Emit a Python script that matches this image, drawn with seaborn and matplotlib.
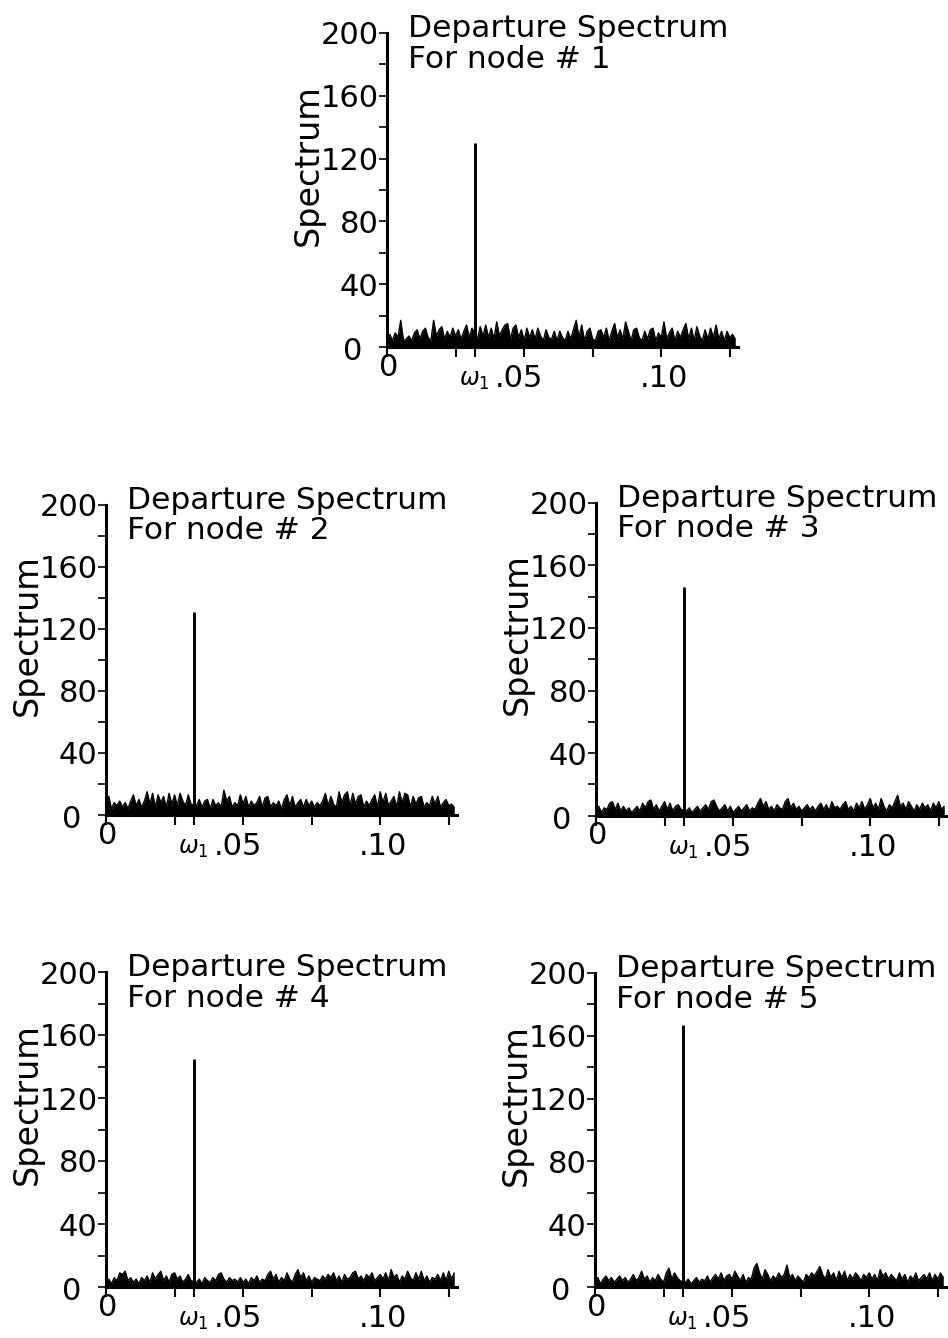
import numpy as np
import pandas as pd
import matplotlib
matplotlib.use("Agg")
import matplotlib.pyplot as plt
import matplotlib.transforms as mtransforms
import seaborn as sns

# ---------------- data ----------------
freq_step = 0.001
n_freq = 128
freqs = np.arange(n_freq) * freq_step          # frequency grid (cycles / unit time)
omega1_index = 32                               # omega_1 = 0.032

node_ids = [1, 2, 3, 4, 5]

spec_node1 = [5, 8, 4, 9, 6, 17, 4, 5, 7, 4,
              9, 11, 5, 10, 12, 6, 4, 17, 7, 11,
              13, 5, 10, 6, 12, 7, 11, 5, 10, 14,
              6, 12, 130, 5, 13, 7, 14, 6, 12, 5,
              16, 7, 11, 14, 15, 5, 12, 14, 6, 11,
              4, 12, 6, 11, 5, 12, 7, 4, 11, 6,
              5, 10, 4, 10, 6, 4, 10, 5, 11, 17,
              6, 14, 4, 10, 12, 5, 4, 10, 11, 6,
              12, 4, 10, 15, 6, 11, 5, 16, 10, 4,
              11, 12, 6, 4, 10, 5, 11, 12, 4, 9,
              6, 16, 5, 9, 12, 4, 10, 6, 11, 15,
              5, 12, 4, 13, 7, 4, 11, 5, 12, 6,
              14, 5, 10, 4, 10, 6, 8, 5]

spec_node2 = [5, 12, 4, 8, 6, 9, 5, 8, 4, 9,
              13, 6, 10, 5, 9, 15, 7, 14, 5, 13,
              8, 12, 5, 14, 7, 13, 6, 14, 9, 6,
              13, 7, 131, 6, 10, 5, 9, 10, 4, 10,
              6, 8, 5, 16, 9, 12, 5, 8, 6, 13,
              7, 12, 5, 9, 6, 8, 12, 5, 11, 12,
              5, 8, 6, 9, 4, 10, 13, 6, 12, 5,
              8, 10, 5, 10, 6, 9, 5, 8, 6, 9,
              14, 6, 12, 7, 5, 15, 8, 13, 15, 6,
              14, 7, 12, 13, 5, 9, 6, 10, 13, 5,
              15, 8, 14, 6, 9, 12, 5, 15, 8, 14,
              13, 5, 12, 7, 11, 12, 5, 8, 6, 12,
              7, 12, 5, 8, 10, 6, 7, 5]

spec_node3 = [3, 6, 2, 5, 4, 8, 9, 4, 8, 3,
              6, 3, 5, 2, 4, 6, 3, 8, 5, 9,
              10, 4, 7, 3, 6, 9, 4, 8, 3, 6,
              7, 4, 146, 3, 5, 2, 4, 6, 3, 5,
              7, 4, 9, 10, 6, 3, 5, 7, 3, 6,
              2, 4, 6, 3, 5, 7, 3, 5, 4, 8,
              11, 6, 9, 4, 6, 3, 7, 5, 4, 9,
              11, 5, 8, 4, 6, 3, 5, 7, 4, 6,
              3, 6, 8, 4, 7, 3, 9, 5, 6, 4,
              7, 9, 4, 6, 3, 8, 5, 9, 4, 7,
              11, 5, 8, 4, 11, 6, 3, 7, 5, 9,
              13, 6, 8, 4, 9, 6, 3, 7, 4, 8,
              5, 7, 3, 8, 5, 9, 4, 6]

spec_node4 = [3, 5, 2, 6, 4, 9, 8, 10, 4, 6,
              3, 5, 2, 6, 4, 7, 3, 9, 5, 8,
              10, 4, 7, 3, 8, 9, 5, 7, 3, 5,
              8, 4, 145, 3, 5, 2, 6, 4, 3, 6,
              4, 8, 9, 5, 3, 6, 4, 5, 3, 6,
              3, 5, 2, 6, 4, 7, 3, 5, 4, 8,
              10, 5, 8, 3, 6, 4, 9, 5, 3, 8,
              11, 6, 9, 4, 7, 3, 6, 5, 4, 7,
              5, 8, 6, 9, 4, 7, 3, 8, 5, 6,
              9, 10, 5, 7, 4, 8, 6, 9, 4, 6,
              8, 5, 9, 4, 11, 6, 8, 3, 7, 5,
              10, 6, 4, 9, 5, 10, 4, 7, 3, 6,
              5, 8, 4, 9, 4, 10, 5, 9]

spec_node5 = [3, 6, 2, 5, 7, 4, 6, 3, 5, 7,
              4, 6, 3, 5, 8, 4, 6, 10, 5, 7,
              3, 6, 4, 8, 5, 3, 9, 12, 5, 9,
              6, 4, 167, 3, 5, 2, 4, 6, 3, 5,
              4, 7, 3, 6, 8, 5, 9, 4, 7, 8,
              5, 10, 7, 4, 8, 3, 6, 5, 12, 15,
              9, 5, 11, 8, 4, 7, 5, 9, 6, 8,
              14, 6, 8, 4, 7, 5, 3, 8, 6, 9,
              7, 10, 13, 8, 5, 11, 6, 9, 4, 10,
              6, 10, 4, 8, 5, 9, 7, 4, 8, 6,
              9, 5, 8, 4, 11, 7, 9, 5, 8, 6,
              4, 9, 5, 8, 3, 7, 5, 9, 4, 6,
              8, 5, 9, 4, 8, 5, 9, 6]

spectra = [spec_node1, spec_node2, spec_node3, spec_node4, spec_node5]

y_major = [0, 40, 80, 120, 160, 200]
y_minor = [20, 60, 100, 140, 180]
x_ticks = [0, 0.025, 0.05, 0.075, 0.10, 0.125]
x_tick_labels = ["", "", ".05", "", ".10", ""]

# ---------------- style ----------------
sns.set_theme(style="white")
plt.rcParams["font.family"] = ["DejaVu Sans"]
plt.rcParams["mathtext.fontset"] = "dejavusans"
plt.rcParams["text.color"] = "black"
plt.rcParams["axes.labelcolor"] = "black"

W, H = 948, 1338
fig = plt.figure(figsize=(W / 100, H / 100), dpi=100)
fig.patch.set_facecolor("white")

# (left px, x-axis row px, height px) for each panel
layout = [(387, 347, 314), (106, 815, 310), (596, 815.7, 313),
          (106, 1287, 315), (595, 1287, 314)]
XMAX = 0.128
ax_w = 351
TICK_FS = 22
label_shift_px = {".05": -5, ".10": 3}

for node, vals, (lx, by, hh) in zip(node_ids, spectra, layout):
    ax = fig.add_axes([lx / W, (H - by) / H, ax_w / W, hh / H])
    df = pd.DataFrame({"freq": freqs, "spec": vals})
    noise = df.drop(index=omega1_index)
    ax.fill_between(noise["freq"], 0, noise["spec"], color="black", lw=0)
    sns.lineplot(data=noise, x="freq", y="spec", ax=ax, color="black",
                 lw=1.0, estimator=None)
    ax.vlines(df["freq"][omega1_index], 0, df["spec"][omega1_index],
              color="black", lw=2.1)

    ax.set_xlim(0, XMAX)
    ax.set_ylim(0, 200)
    ax.set_xlabel("")
    ax.set_ylabel("")
    for s in ["top", "right"]:
        ax.spines[s].set_visible(False)
    for s in ["left", "bottom"]:
        ax.spines[s].set_linewidth(2.2)
        ax.spines[s].set_color("black")

    ax.set_yticks(y_major, ["" if v == 0 else str(v) for v in y_major])
    ax.set_yticks(y_minor, minor=True)
    ax.tick_params(axis="y", which="both", left=True, direction="out",
                   length=5.8, width=1.2, pad=0.4, labelsize=TICK_FS,
                   color="black", labelcolor="black")
    ax.set_xticks(x_ticks + [df["freq"][omega1_index]],
                  x_tick_labels + [""])
    ax.tick_params(axis="x", which="both", bottom=True, direction="out",
                   length=7.2, width=1.5, pad=5, labelsize=TICK_FS,
                   color="black", labelcolor="black")
    ax.tick_params(axis="x", which="minor", bottom=False)
    for lab in ax.get_xticklabels():
        dx = label_shift_px.get(lab.get_text(), 0)
        if dx:
            lab.set_transform(lab.get_transform() + mtransforms.ScaledTranslation(
                dx / 100, 0, fig.dpi_scale_trans))

    # separate '0' labels and omega_1 marker
    ax.annotate("0", xy=(0, 0), xycoords=("axes fraction", "data"),
                xytext=(-18, -3.5), textcoords="offset points",
                ha="right", va="center", fontsize=TICK_FS)
    ax.annotate("0", xy=(0, 0), xycoords="data",
                xytext=(1.5, -4), textcoords="offset points",
                ha="center", va="top", fontsize=TICK_FS)
    ax.annotate(r"$\omega_1$", xy=(df["freq"][omega1_index], 0),
                xycoords="data", xytext=(0, -24),
                textcoords="offset points", ha="center", va="center",
                fontsize=17)

    ax.text(-0.225, 0.58, "Spectrum", transform=ax.transAxes, rotation=90,
            ha="center", va="center", fontsize=24)
    ax.text(0.0077, 197.5, "Departure Spectrum", ha="left", va="baseline",
            fontsize=22.5, clip_on=False)
    ax.text(0.0077, 178, f"For node # {node}", ha="left", va="baseline",
            fontsize=22.5, clip_on=False)

fig.savefig("out.png", dpi=100, facecolor="white")
